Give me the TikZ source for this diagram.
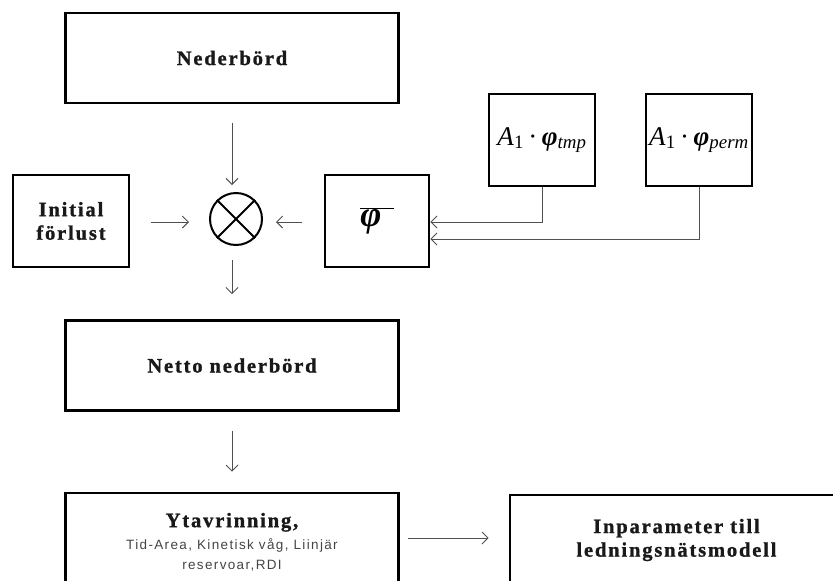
\documentclass[tikz,border=0pt]{standalone}
\usepackage{fontspec}
\setmainfont{Liberation Serif}
\newfontfamily\labfont{Liberation Serif}[LetterSpace=9, BoldFeatures={FakeBold=1.2}]
\newfontfamily\smfont{Liberation Sans}[LetterSpace=10]
\usetikzlibrary{arrows.meta}
\definecolor{arrgray}{HTML}{505050}
\definecolor{txtgray}{HTML}{444444}
\tikzset{
 box/.style={draw=black, line width=2.6pt, minimum width=333pt, minimum height=90pt, inner sep=0pt},
 sbox/.style={draw=black, line width=2.6pt, inner sep=0pt},
 lab/.style={font={\fontsize{20.5}{23.5}\selectfont\labfont\bfseries}, align=center, text=black!90},
 arr/.style={draw=arrgray, line width=1pt, -{Straight Barb[length=6pt,width=12pt]}},
 mathlab/.style={font={\fontsize{27}{30}\selectfont}},
}
\newcommand{\bphi}{\textbf{\textit{φ}}}
\begin{document}
\begin{tikzpicture}[x=1pt,y=-1pt]
\path[use as bounding box, clip] (0,0) rectangle (833,581);
\node[box, lab] (ned) at (232,58) {Nederbörd};
\node[sbox, lab, minimum width=116pt, minimum height=92pt] (init) at (71,221) {Initial\\förlust};
\node[sbox, minimum width=104pt, minimum height=92pt, font=\fontsize{36}{40}\selectfont] (phibar) at (377,221) {$\overline{\hbox{\bphi\,\,}}$};
\node[draw, circle, line width=2pt, minimum size=52pt, inner sep=0pt] (circ) at (236,219) {};
\draw[line width=2pt] (circ.45) -- (circ.225) (circ.135) -- (circ.315);
\node[box, lab] (netto) at (232,365.5) {Netto nederbörd};
\node[box] (yta) at (232,538) {};
\node[lab, anchor=north, inner sep=0pt] (ytatitle) at ([yshift=-21pt]yta.north) {Ytavrinning,};
\node[anchor=north, inner sep=0pt, font={\fontsize{13.5}{20}\selectfont\smfont}, text=txtgray, align=center] (ytasub) at ([yshift=-47pt]yta.north) {Tid-Area, Kinetisk våg, Liinjär\\reservoar,RDI};
\node[box, lab] (inp) at (676.5,540) {Inparameter till\\ledningsnätsmodell};
\node[sbox, minimum width=106pt, minimum height=92pt, mathlab] (tmp) at (542,140) {\textit{A}\textsubscript{1}\,·\,\bphi\textsubscript{\textit{tmp}}};
\node[sbox, minimum width=106pt, minimum height=92pt, mathlab] (perm) at (699,140) {\textit{A}\textsubscript{1}\,·\,\bphi\textsubscript{\textit{perm}}};
\draw[arr, shorten <=19pt, shorten >=7pt] (ned.south) -- (ned.south |- circ.north);
\draw[arr, shorten <=14pt, shorten >=25pt] (circ.south -| netto.north) -- (netto.north);
\draw[arr, shorten <=19pt, shorten >=20pt] (netto.south) -- (yta.north);
\draw[arr, shorten <=21pt, shorten >=20pt] ([yshift=-1pt]init.east) -- ([yshift=-1pt]init.east -| circ.west);
\draw[arr, shorten <=22pt, shorten >=13pt] ([yshift=-1pt]phibar.west) -- ([yshift=-1pt]phibar.west -| circ.east);
\draw[arr, shorten <=8pt, shorten >=20pt] (yta.east) -- ([yshift=2pt]inp.west);
\draw[arr] (tmp.south) |- ([yshift=-1pt]phibar.east);
\draw[arr] (perm.south) |- ([yshift=-18pt]phibar.east);
\end{tikzpicture}
\end{document}
